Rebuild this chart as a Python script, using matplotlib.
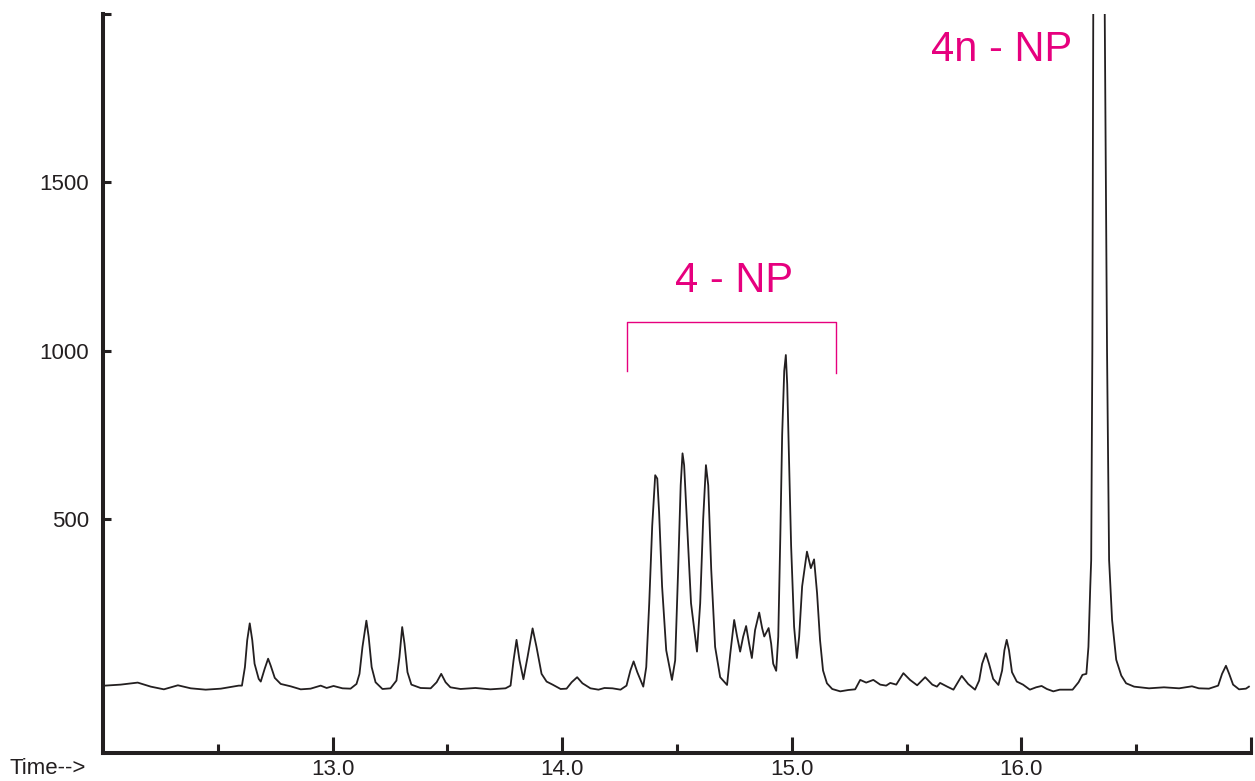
import matplotlib.pyplot as plt
from matplotlib.ticker import FixedLocator

plt.rcParams['font.family'] = ['Liberation Sans', 'DejaVu Sans']

# retention time (min) / abundance
times = [
    12.008, 12.077, 12.151, 12.208, 12.265, 12.326, 12.382, 12.447, 12.513, 12.565, 12.591,
    12.605, 12.618, 12.628, 12.639, 12.650, 12.660, 12.678, 12.687, 12.704, 12.719, 12.730,
    12.748, 12.774, 12.817, 12.861, 12.904, 12.948, 12.974, 13.004, 13.043, 13.078, 13.104,
    13.117, 13.130, 13.147, 13.157, 13.170, 13.187, 13.217, 13.252, 13.278, 13.291, 13.303,
    13.313, 13.326, 13.343, 13.383, 13.427, 13.453, 13.473, 13.492, 13.513, 13.557, 13.622,
    13.687, 13.753, 13.775, 13.788, 13.801, 13.814, 13.831, 13.849, 13.871, 13.888, 13.910,
    13.932, 13.958, 13.993, 14.019, 14.041, 14.065, 14.088, 14.123, 14.158, 14.184, 14.219,
    14.254, 14.280, 14.297, 14.311, 14.327, 14.353, 14.366, 14.379, 14.392, 14.405, 14.414,
    14.422, 14.435, 14.453, 14.478, 14.492, 14.505, 14.516, 14.524, 14.531, 14.544, 14.561,
    14.587, 14.601, 14.614, 14.626, 14.636, 14.649, 14.666, 14.688, 14.718, 14.732, 14.749,
    14.762, 14.775, 14.788, 14.801, 14.814, 14.826, 14.840, 14.858, 14.871, 14.880, 14.899,
    14.910, 14.919, 14.932, 14.941, 14.950, 14.958, 14.967, 14.974, 14.980, 14.989, 14.997,
    15.010, 15.022, 15.032, 15.045, 15.066, 15.083, 15.097, 15.110, 15.123, 15.136, 15.153,
    15.176, 15.211, 15.246, 15.276, 15.298, 15.324, 15.355, 15.385, 15.411, 15.429, 15.455,
    15.486, 15.515, 15.546, 15.581, 15.612, 15.632, 15.646, 15.677, 15.704, 15.740, 15.768,
    15.798, 15.816, 15.829, 15.845, 15.859, 15.877, 15.900, 15.916, 15.926, 15.936, 15.946,
    15.959, 15.980, 16.007, 16.037, 16.064, 16.088, 16.111, 16.139, 16.167, 16.223, 16.249,
    16.266, 16.283, 16.292, 16.300, 16.304, 16.309, 16.313, 16.338, 16.363, 16.373, 16.382,
    16.395, 16.413, 16.435, 16.456, 16.491, 16.556, 16.621, 16.687, 16.743, 16.773, 16.817,
    16.857, 16.874, 16.891, 16.905, 16.922, 16.948, 16.978, 16.991,
]
abundance = [
    5, 8, 14, 2, -6, 6, -3, -7, -4, 2, 5,
    5, 60, 140, 190, 140, 70, 25, 17, 55, 85, 65,
    28, 10, 3, -6, -4, 5, -2, 4, -3, -4, 10,
    40, 120, 198, 150, 60, 15, -5, -3, 20, 90, 179,
    130, 45, 8, -2, -3, 15, 40, 15, 0, -5, -2,
    -6, -3, 5, 80, 141, 80, 24, 90, 175, 120, 40,
    17, 8, -5, -4, 15, 30, 12, -3, -7, -2, -3,
    -7, 5, 50, 77, 45, 2, 60, 250, 480, 630, 620,
    520, 300, 110, 22, 80, 350, 600, 695, 660, 480, 250,
    106, 250, 500, 660, 600, 350, 120, 30, 7, 100, 200,
    150, 106, 150, 182, 130, 87, 170, 222, 175, 151, 176,
    130, 70, 49, 150, 450, 750, 940, 987, 900, 650, 420,
    180, 87, 150, 300, 403, 354, 380, 280, 140, 50, 12,
    -5, -12, -8, -6, 22, 14, 22, 8, 5, 13, 8,
    42, 22, 6, 30, 8, 2, 13, 2, -7, 34, 10,
    -7, 20, 70, 101, 70, 25, 7, 50, 110, 141, 110,
    45, 17, 8, -7, 0, 4, -5, -12, -7, -7, 15,
    37, 40, 120, 300, 378, 1000, 2000, 7500, 2000, 1000, 378,
    200, 82, 35, 12, 2, -3, 0, -3, 3, -3, -4,
    5, 40, 64, 40, 8, -6, -4, 2,
]

major_ticks = [13.0, 14.0, 15.0, 16.0, 17.0]
major_labels = ['13.0', '14.0', '15.0', '16.0', '']
minor_ticks = [12.5, 13.5, 14.5, 15.5, 16.5]
y_ticks = [500, 1000, 1500, 2000]
y_labels = ['500', '1000', '1500', '']

pink = '#e6007e'
dark = '#231f20'

fig = plt.figure(figsize=(12.55, 7.81), dpi=100)
ax = fig.add_axes([0.0821, 0.0359, 0.9147, 0.9462])

ax.plot(times, abundance, color=dark, lw=1.3)

ax.set_xlim(12.0, 17.0)
ax.set_ylim(-195, 2000)

ax.spines['top'].set_visible(False)
ax.spines['right'].set_visible(False)
for s in ['left', 'bottom']:
    ax.spines[s].set_linewidth(2.9)
    ax.spines[s].set_color(dark)

ax.xaxis.set_major_locator(FixedLocator(major_ticks))
ax.set_xticklabels(major_labels)
ax.xaxis.set_minor_locator(FixedLocator(minor_ticks))
ax.set_yticks(y_ticks)
ax.set_yticklabels(y_labels)

ax.tick_params(axis='x', which='major', direction='in', length=11.5, width=2.2,
               color=dark, labelsize=16, pad=4, labelcolor=dark)
ax.tick_params(axis='x', which='minor', direction='in', length=6.5, width=2.2, color=dark)
ax.tick_params(axis='y', direction='in', length=6, width=2.2, color=dark,
               labelsize=16, pad=10, labelcolor=dark)

fig.text(10 / 1255, (781 - 768) / 781, 'Time-->', fontsize=16, color=dark,
         ha='left', va='center')

# peak group labels
ax.text(14.749, 1206, '4 - NP', color=pink, fontsize=30, ha='center', va='center')
ax.text(15.916, 1892, '4n - NP', color=pink, fontsize=30, ha='center', va='center')
ax.plot([14.280, 14.280, 15.194, 15.194], [940, 1084, 1084, 933], color=pink, lw=1.0)

fig.savefig('out.png', dpi=100)
